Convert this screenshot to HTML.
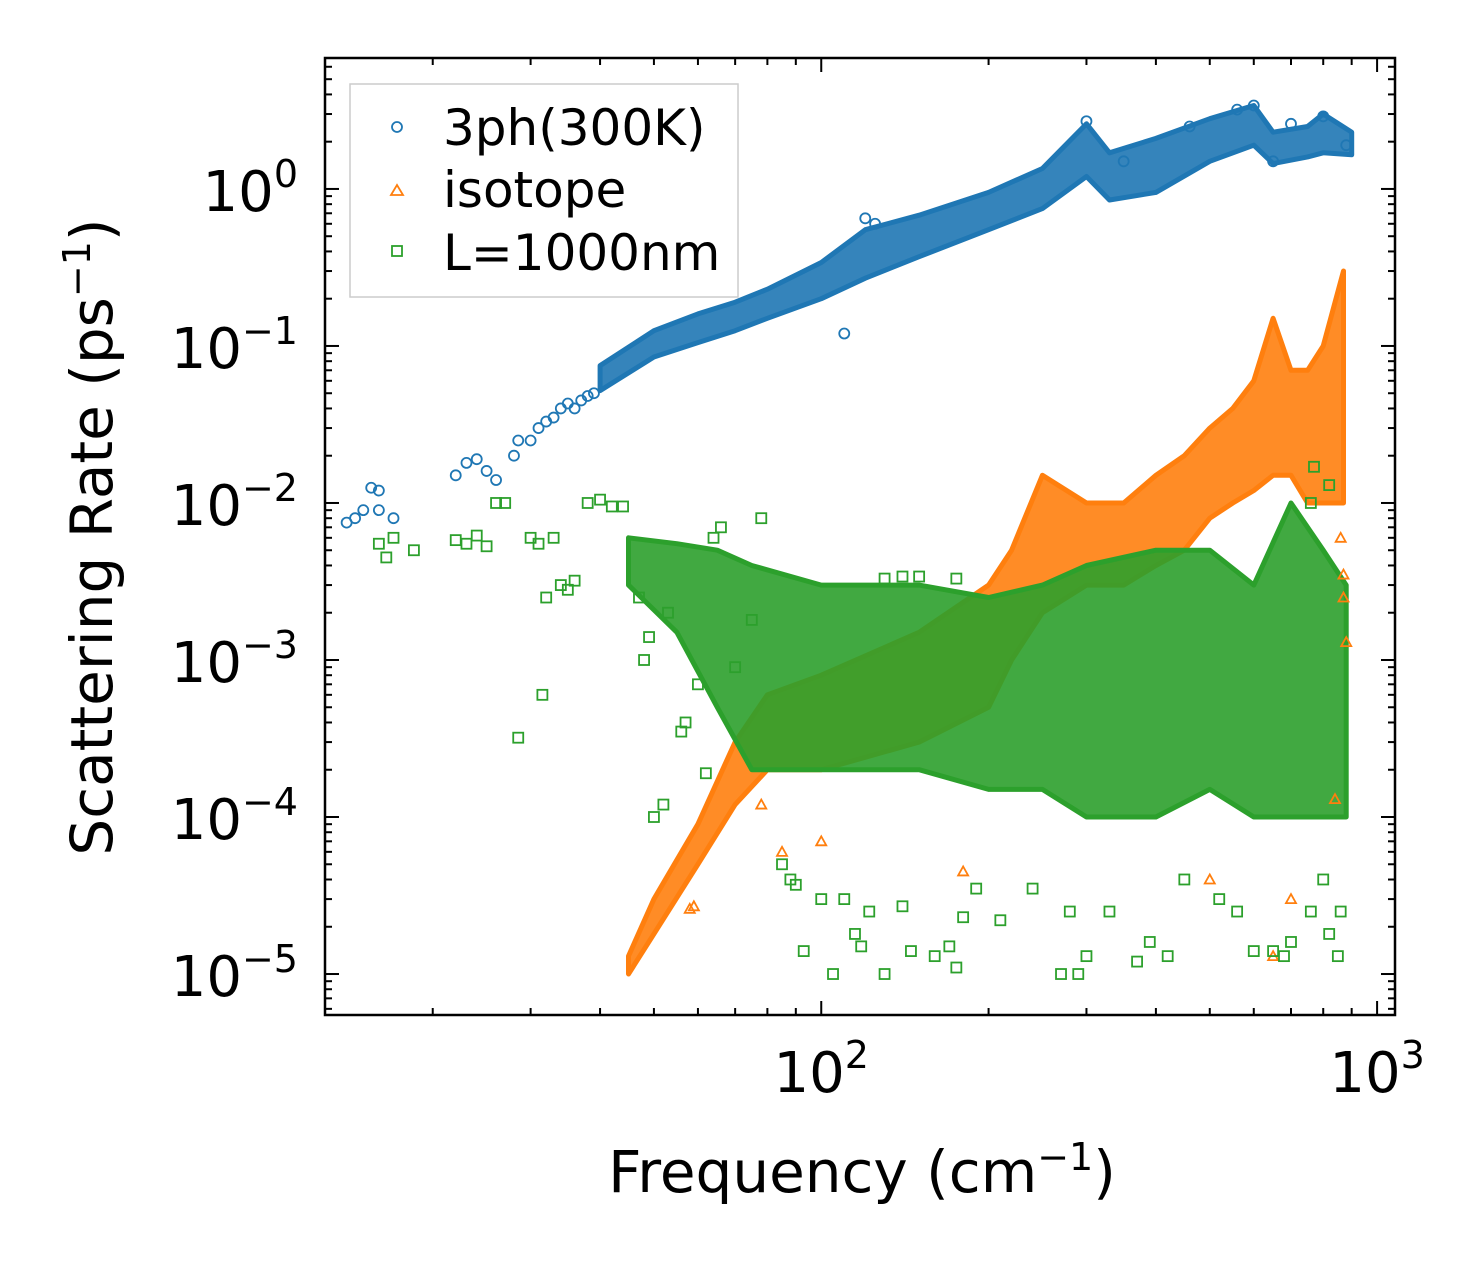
<!DOCTYPE html>
<html><head><meta charset="utf-8"><style>
html,body{margin:0;padding:0;background:#fff;}
svg{display:block;font-family:"DejaVu Sans","Liberation Sans",sans-serif;}
</style></head><body>
<svg id="chart" width="1480" height="1265" viewBox="0 0 1480 1265">
<rect x="0" y="0" width="1480" height="1265" fill="#fff"/>
<g id="bands"></g>
<g id="marks"></g>
<g id="axes"></g>
<text x="862" y="1192" font-size="58" text-anchor="middle">Frequency (cm<tspan font-size="38" dy="-22">−1</tspan><tspan dy="22">)</tspan></text>
<text transform="translate(112,537) rotate(-90)" font-size="58" text-anchor="middle">Scattering Rate (ps<tspan font-size="38" dy="-22">−1</tspan><tspan dy="22">)</tspan></text>
<g>
<rect x="350" y="84" width="388" height="213" fill="#fff" stroke="#ccc" stroke-width="1.5"/>
<g><circle cx="397" cy="127" r="5" fill="none" stroke="#1f77b4" stroke-width="1.8"/><text x="443" y="145" font-size="50">3ph(300K)</text></g>
<g><path d="M391,195 L397,185 L403,195 Z" fill="none" stroke="#ff7f0e" stroke-width="1.8"/><text x="443" y="207" font-size="50">isotope</text></g>
<g><rect x="392" y="246" width="10" height="10" fill="none" stroke="#2ca02c" stroke-width="1.8"/><text x="443" y="270" font-size="50">L=1000nm</text></g>
</g>
</svg>
<script>
const X0=325,X1=1395,Y0=58,Y1=1015;
const xLogMin=Math.log10(12.8),xLogMax=Math.log10(1077);
const yLogMin=-5.261,yLogMax=0.834;
function xs(v){return X0+(Math.log10(v)-xLogMin)/(xLogMax-xLogMin)*(X1-X0);}
function ys(v){return Y1-(Math.log10(v)-yLogMin)/(yLogMax-yLogMin)*(Y1-Y0);}

const blueBandF=[40,50,60,70,80,100,120,150,200,250,300,330,400,500,600,650,750,800,900];
const blueBandLo=[0.052,0.085,0.105,0.125,0.15,0.2,0.27,0.37,0.55,0.75,1.2,0.85,0.95,1.5,1.9,1.45,1.6,1.7,1.65];
const blueBandHi=[0.075,0.125,0.16,0.19,0.23,0.34,0.55,0.68,0.95,1.35,2.6,1.7,2.1,2.8,3.4,2.3,2.5,3.0,2.3];
const orangeBandF=[45,50,60,70,80,100,150,200,220,250,300,350,400,450,500,550,600,650,700,750,800,870];
const orangeBandLo=[0.00001,0.000018,0.00005,0.00012,0.0002,0.0002,0.0003,0.0005,0.001,0.002,0.003,0.003,0.004,0.005,0.008,0.01,0.012,0.015,0.015,0.01,0.01,0.01];
const orangeBandHi=[0.000013,0.00003,0.00009,0.0003,0.0006,0.0008,0.0015,0.003,0.005,0.015,0.01,0.01,0.015,0.02,0.03,0.04,0.06,0.15,0.07,0.07,0.1,0.3];
const greenBandF=[45,55,65,75,100,150,200,250,300,400,500,600,700,800,880];
const greenBandLo=[0.003,0.0015,0.0005,0.0002,0.0002,0.0002,0.00015,0.00015,0.0001,0.0001,0.00015,0.0001,0.0001,0.0001,0.0001];
const greenBandHi=[0.006,0.0055,0.005,0.004,0.003,0.003,0.0025,0.003,0.004,0.005,0.005,0.003,0.01,0.005,0.003];

const blueF=[14,14.5,15,15.5,16,16,17,22,23,24,25,26,28,28.5,30,31,32,33,34,35,36,37,38,39,120,125,110,300,350,460,560,600,650,700,800,880];
const blueR=[0.0075,0.008,0.009,0.0125,0.012,0.009,0.008,0.015,0.018,0.019,0.016,0.014,0.02,0.025,0.025,0.03,0.033,0.035,0.04,0.043,0.04,0.045,0.048,0.05,0.65,0.6,0.12,2.7,1.5,2.5,3.2,3.4,1.5,2.6,2.9,1.9];
const orangeF=[58,59,78,85,100,180,500,650,700,840,870,860,870,880];
const orangeR=[0.000026,0.000027,0.00012,0.00006,0.00007,0.000045,0.00004,0.000013,0.00003,0.00013,0.0035,0.006,0.0025,0.0013];
const greenF=[16,16.5,17,18.5,22,23,24,25,26,27,28.5,30,31,31.5,32,33,34,35,36,38,40,42,44,47,48,49,50,52,53,56,57,60,62,64,66,70,75,78,85,88,90,93,100,105,110,115,118,122,130,140,145,160,170,175,180,190,210,240,270,280,290,300,330,370,390,420,450,520,560,600,650,680,700,760,800,820,850,860,130,140,150,175,770,820,760];
const greenR=[0.0055,0.0045,0.006,0.005,0.0058,0.0055,0.0062,0.0053,0.01,0.01,0.00032,0.006,0.0055,0.0006,0.0025,0.006,0.003,0.0028,0.0032,0.01,0.0105,0.0095,0.0095,0.0025,0.001,0.0014,0.0001,0.00012,0.002,0.00035,0.0004,0.0007,0.00019,0.006,0.007,0.0009,0.0018,0.008,0.00005,0.00004,0.000037,0.000014,0.00003,0.00001,0.00003,0.000018,0.000015,0.000025,0.00001,0.000027,0.000014,0.000013,0.000015,0.000011,0.000023,0.000035,0.000022,0.000035,0.00001,0.000025,0.00001,0.000013,0.000025,0.000012,0.000016,0.000013,0.00004,0.00003,0.000025,0.000014,0.000014,0.000013,0.000016,0.000025,0.00004,0.000018,0.000013,0.000025,0.0033,0.0034,0.0034,0.0033,0.017,0.013,0.01];

const xMajor=[100,1000];
const xMinor=[20,30,40,50,60,70,80,90,200,300,400,500,600,700,800,900];
const yMajorExp=[0,-1,-2,-3,-4,-5];
const yMajorLabels=["0","−1","−2","−3","−4","−5"];

const NS="http://www.w3.org/2000/svg";
function mk(tag,attrs,parent){const e=document.createElementNS(NS,tag);for(const k in attrs)e.setAttribute(k,attrs[k]);parent.appendChild(e);return e;}
const bands=document.getElementById('bands'),marks=document.getElementById('marks'),axes=document.getElementById('axes');

function band(F,Lo,Hi,color,name){
  let d="M"+F.map((f,i)=>xs(f).toFixed(1)+","+ys(Hi[i]).toFixed(1)).join(" L");
  for(let i=F.length-1;i>=0;i--)d+=" L"+xs(F[i]).toFixed(1)+","+ys(Lo[i]).toFixed(1);
  d+=" Z";
  const p=mk('path',{d:d,fill:color,'fill-opacity':0.9,stroke:color,'stroke-width':5,'stroke-linejoin':'round'},bands);
  
  
}
band(blueBandF,blueBandLo,blueBandHi,'#1f77b4','band-3ph');
band(orangeBandF,orangeBandLo,orangeBandHi,'#ff7f0e','band-isotope');
band(greenBandF,greenBandLo,greenBandHi,'#2ca02c','band-boundary');

blueF.forEach((f,i)=>{const c=mk('circle',{cx:xs(f),cy:ys(blueR[i]),r:5,fill:'none',stroke:'#1f77b4','stroke-width':1.8},marks);

});
orangeF.forEach((f,i)=>{const x=xs(f),y=ys(orangeR[i]);const p=mk('path',{d:`M${x-5},${y+4} L${x},${y-5} L${x+5},${y+4} Z`,fill:'none',stroke:'#ff7f0e','stroke-width':1.8},marks);

});
greenF.forEach((f,i)=>{const r=mk('rect',{x:xs(f)-5,y:ys(greenR[i])-5,width:10,height:10,fill:'none',stroke:'#2ca02c','stroke-width':1.8},marks);

});

const fr=mk('rect',{x:X0,y:Y0,width:X1-X0,height:Y1-Y0,fill:'none',stroke:'#000','stroke-width':2.5},axes);


function tick(x1,y1,x2,y2){mk('line',{x1,y1,x2,y2,stroke:'#000','stroke-width':2},axes);}
xMajor.forEach((v,i)=>{const x=xs(v);tick(x,Y1,x,Y1-14);tick(x,Y0,x,Y0+14);
  const t=mk('text',{x:x,y:1092,'font-size':56,'text-anchor':'middle'},axes);
  
  
  t.innerHTML='10<tspan font-size="38" dy="-24">'+(i+2)+'</tspan>';});
xMinor.forEach(v=>{const x=xs(v);tick(x,Y1,x,Y1-7);tick(x,Y0,x,Y0+7);});
yMajorExp.forEach((e,i)=>{const y=ys(Math.pow(10,e));tick(X0,y,X0+14,y);tick(X1,y,X1-14,y);
  for(let m=2;m<=9;m++){const yy=ys(m*Math.pow(10,e));if(yy>Y0)tick(X0,yy,X0+7,yy),tick(X1,yy,X1-7,yy);}
  if(e===-5){for(let m=6;m<=9;m++){const yy=ys(m*1e-6);if(yy<Y1){tick(X0,yy,X0+7,yy);tick(X1,yy,X1-7,yy);}}}
  const t=mk('text',{x:298,y:y+22,'font-size':56,'text-anchor':'end'},axes);
  
  
  t.innerHTML='10<tspan font-size="38" dy="-24">'+yMajorLabels[i]+'</tspan>';
});
</script>
</body></html>
